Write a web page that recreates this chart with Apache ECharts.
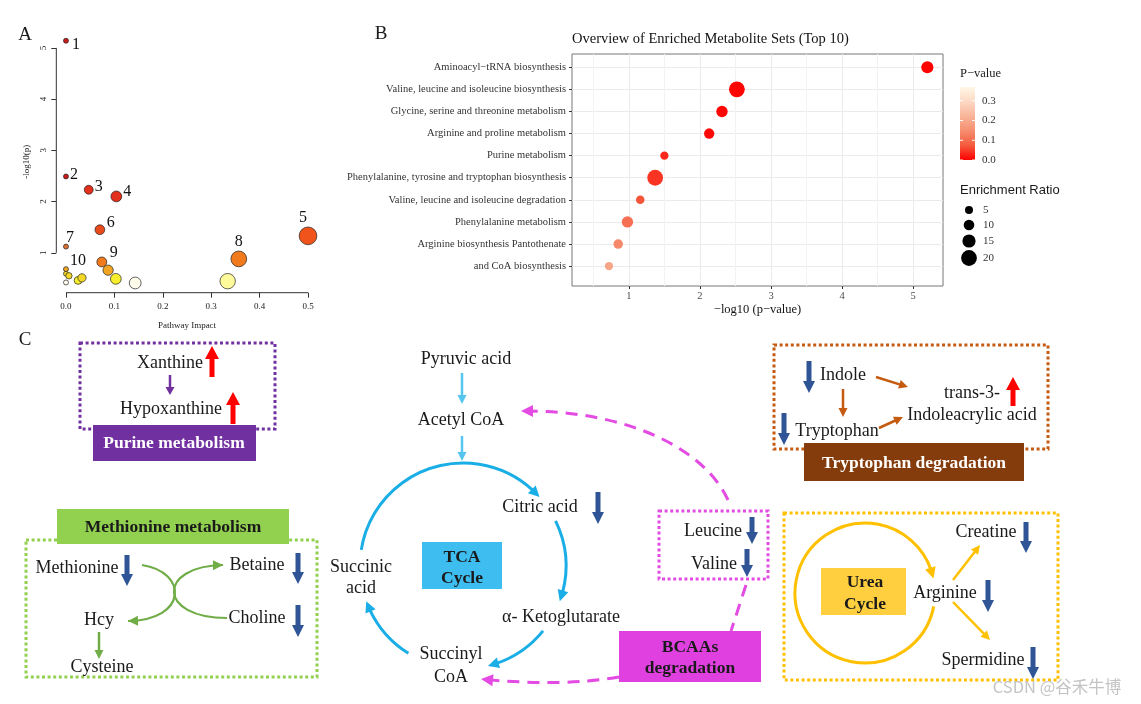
<!DOCTYPE html>
<html><head><meta charset="utf-8">
<script src="https://cdn.jsdelivr.net/npm/echarts@6.0.0/dist/echarts.min.js"></script>
<style>html,body{margin:0;padding:0;background:#fff}#c{width:1141px;height:704px}</style>
</head><body><div id="c"></div>
<script>
// ---------- Panel A data ----------
const impactX = [0.0, 0.0, 0.047, 0.104, 0.50, 0.070, 0.0, 0.357, 0.074, 0.0, 0.087, 0.103, 0.143, 0.334, 0.0, 0.006, 0.0, 0.025, 0.033];
const negLogPA = [5.14, 2.49, 2.23, 2.10, 1.33, 1.45, 1.12, 0.88, 0.82, 0.68, 0.66, 0.49, 0.41, 0.445, 0.59, 0.55, 0.42, 0.46, 0.51];
const pointLabels = ['1','2','3','4','5','6','7','8','9','10','','','','','','','','',''];
const xTicksA = [0, 0.1, 0.2, 0.3, 0.4, 0.5];
const yTicksA = [1, 2, 3, 4, 5];
const xRangeA = [-0.02, 0.52];
const yRangeA = [0.22, 5.33];
// ---------- Panel B data ----------
const setNames = ['Aminoacyl\u2212tRNA biosynthesis','Valine, leucine and isoleucine biosynthesis','Glycine, serine and threonine metabolism','Arginine and proline metabolism','Purine metabolism','Phenylalanine, tyrosine and tryptophan biosynthesis','Valine, leucine and isoleucine degradation','Phenylalanine metabolism','Arginine biosynthesis Pantothenate','and CoA biosynthesis'];
const negLogPB = [5.20, 2.52, 2.31, 2.13, 1.50, 1.37, 1.16, 0.98, 0.85, 0.72];
const pValues = [0.000006, 0.003, 0.0049, 0.0074, 0.032, 0.043, 0.069, 0.105, 0.141, 0.19];
const enrichRatio = [13, 20, 11.5, 9.5, 5.5, 20, 6, 11.5, 8, 5.5];
const xTicksB = [1, 2, 3, 4, 5];
const xMinorB = [0.5, 1.5, 2.5, 3.5, 4.5];
const pLegendTicks = [0, 0.1, 0.2, 0.3];
const erLegendVals = [5, 10, 15, 20];

const SERIF = '"Liberation Serif", "Times New Roman", serif';
const pColors = ['#FF0000', '#F45A3C', '#F68E70', '#F8B498', '#FCD8C4', '#FFF8E6'];
const pMax = 0.37;
const sizeA = v => 5 + 18 * Math.sqrt(v[0]);
const sizeB = er => 5.4 + 0.52 * er;

const labelOffsets = {'1':[10,4],'2':[8,-2],'3':[10,-3],'4':[11,-5],'5':[-5,-18],'6':[11,-7],'7':[4,-9],'8':[0,-17],'9':[12,-9],'10':[12,-8]};

const dataA = impactX.map((x, i) => ({
  value: [x, negLogPA[i]],
  label: {offset: labelOffsets[pointLabels[i]] || [0, 0]}
}));
const dataB = negLogPB.map((x, i) => [x, i, pValues[i], enrichRatio[i]]);

// ---------- graphic helpers (panel C diagram + legends) ----------
const G = [];
const INK = '#1a1a1a', BLUE = '#2F5597', RED = '#FF0000';
function txt(s, x, y, o) {
  o = o || {};
  G.push({type:'text', silent:true, z:20, style:{text:s, x:x, y:y,
    font:(o.bold?'bold ':'') + (o.size || 18) + 'px ' + (o.family || SERIF),
    fill:o.color || INK, align:o.align || 'center', verticalAlign:'middle'}});
}
function box(x, y, w, h, fill) {
  G.push({type:'rect', silent:true, z:5, shape:{x:x, y:y, width:w, height:h}, style:{fill:fill}});
}
function dotted(x, y, w, h, color) {
  G.push({type:'rect', silent:true, z:4, shape:{x:x, y:y, width:w, height:h}, style:{fill:null, stroke:color, lineWidth:3, lineDash:[3, 2.6]}});
}
function head(tx, ty, dx, dy, len, w, color) {
  const n = Math.hypot(dx, dy); dx /= n; dy /= n;
  const bx = tx - dx * len, by = ty - dy * len, px = -dy, py = dx;
  G.push({type:'polygon', silent:true, z:12, shape:{points:[[tx, ty], [bx + px * w / 2, by + py * w / 2], [bx - px * w / 2, by - py * w / 2]]}, style:{fill:color}});
}
function arrow(x1, y1, x2, y2, color, lw, hl, hw) {
  lw = lw || 2.5; hl = hl || 9; hw = hw || 9;
  const n = Math.hypot(x2 - x1, y2 - y1), dx = (x2 - x1) / n, dy = (y2 - y1) / n;
  G.push({type:'line', silent:true, z:11, shape:{x1:x1, y1:y1, x2:x2 - dx * hl * 0.8, y2:y2 - dy * hl * 0.8}, style:{stroke:color, lineWidth:lw}});
  head(x2, y2, dx, dy, hl, hw, color);
}
function block(x, yTail, yTip, color, hl, hw, sw) {
  hl = hl || 12; hw = hw || 12; sw = sw || 5;
  const d = Math.sign(yTip - yTail), yb = yTip - d * hl;
  G.push({type:'polygon', silent:true, z:12, shape:{points:[[x - sw / 2, yTail], [x + sw / 2, yTail], [x + sw / 2, yb], [x + hw / 2, yb], [x, yTip], [x - hw / 2, yb], [x - sw / 2, yb]]}, style:{fill:color}});
}
function arcArrow(cx, cy, r, a0, a1, color, lw, hl, hw) {
  lw = lw || 3; hl = hl || 11; hw = hw || 11;
  const rad = d => d * Math.PI / 180;
  const e = rad(a1);
  G.push({type:'arc', silent:true, z:11, shape:{cx:cx, cy:cy, r:r, startAngle:rad(a0), endAngle:e - hl * 0.8 / r, clockwise:true}, style:{stroke:color, lineWidth:lw, fill:null}});
  const tx = cx + r * Math.cos(e), ty = cy + r * Math.sin(e);
  const b = e - hl / r, bx = cx + r * Math.cos(b), by = cy + r * Math.sin(b);
  head(tx, ty, tx - bx, ty - by, hl, hw, color);
}
function bez(p0, c1, c2, p3, color, lw, dash, hl, hw) {
  G.push({type:'bezierCurve', silent:true, z:11, shape:{x1:p0[0], y1:p0[1], cpx1:c1[0], cpy1:c1[1], cpx2:c2[0], cpy2:c2[1], x2:p3[0], y2:p3[1]}, style:{stroke:color, lineWidth:lw, fill:null, lineDash:dash || null}});
  head(p3[0], p3[1], p3[0] - c2[0], p3[1] - c2[1], hl || 9, hw || 10, color);
}

// panel letters
txt('A', 25, 35, {size:19});
txt('B', 381, 34, {size:19});
txt('C', 25, 340, {size:19});

// ---- Panel B legends ----
txt('P\u2212value', 960, 74, {size:12.5, align:'left'});
const barTop = 87, barBot = 160;
G.push({type:'rect', silent:true, z:5, shape:{x:960, y:barTop, width:15, height:barBot - barTop},
  style:{fill:{type:'linear', x:0, y:0, x2:0, y2:1, colorStops: pColors.slice().reverse().map((c, i, a) => ({offset:i / (a.length - 1), color:c}))}}});
pLegendTicks.forEach(v => {
  const y = barBot - v / pMax * (barBot - barTop);
  txt(v.toFixed(1), 982, y, {size:11, align:'left', color:'#333'});
  G.push({type:'line', silent:true, z:6, shape:{x1:960, y1:y, x2:963, y2:y}, style:{stroke:'#fff', lineWidth:1}});
  G.push({type:'line', silent:true, z:6, shape:{x1:972, y1:y, x2:975, y2:y}, style:{stroke:'#fff', lineWidth:1}});
});
txt('Enrichment Ratio', 960, 190, {size:13, align:'left', family:'"Liberation Sans", Arial, sans-serif'});
const erY = [210, 225, 241, 258];
erLegendVals.forEach((v, i) => {
  G.push({type:'circle', silent:true, z:6, shape:{cx:969, cy:erY[i], r:sizeB(v) / 2}, style:{fill:'#000'}});
  txt(String(v), 983, erY[i], {size:11, align:'left', color:'#333'});
});

// ---- Purine metabolism ----
dotted(80, 343, 195, 86, '#7030A0');
txt('Xanthine', 170, 363);
block(212, 377, 346, RED, 13, 14, 5);
arrow(170, 375, 170, 395, '#7030A0', 2.5, 8, 9);
txt('Hypoxanthine', 171, 409);
block(233, 424, 392, RED, 13, 14, 5);
box(93, 425, 163, 36, '#7030A0');
txt('Purine metabolism', 174, 443, {bold:true, size:17.5, color:'#fff'});

// ---- Methionine metabolism ----
dotted(26, 540, 291, 137, '#92D050');
box(57, 509, 232, 35, '#92D050');
txt('Methionine metabolism', 173, 527, {bold:true, size:17.5});
txt('Methionine', 77, 568);
block(127, 555, 586, BLUE);
txt('Betaine', 257, 565);
block(298, 553, 584, BLUE);
txt('Hcy', 99, 620);
txt('Choline', 257, 618);
block(298, 605, 637, BLUE);
arrow(99, 632, 99, 659, '#70AD47', 2.5, 9, 9);
txt('Cysteine', 102, 667);
bez([142, 565], [188, 572], [188, 620], [128, 621], '#70AD47', 2.2, null, 10, 10);
bez([227, 618], [157, 618], [157, 566], [223, 565], '#70AD47', 2.2, null, 10, 10);

// ---- TCA cycle ----
const CY = '#1AAEE6', CY2 = '#56C5F0';
txt('Pyruvic acid', 466, 359);
arrow(462, 373, 462, 404, CY2, 2.5, 9, 9);
txt('Acetyl CoA', 461, 420);
arrow(462, 436, 462, 461, CY2, 2.5, 9, 9);
arcArrow(463, 566, 103, 189, 318, CY);
arcArrow(463, 566, 103, 334, 380, CY);
arcArrow(463, 566, 103, 39, 76, CY);
arcArrow(463, 566, 103, 122, 160, CY);
txt('Citric acid', 540, 507);
block(598, 492, 524, BLUE);
txt('\u03b1- Ketoglutarate', 561, 617);
txt('Succinyl', 451, 654);
txt('CoA', 451, 677);
txt('Succinic', 361, 567);
txt('acid', 361, 588);
box(422, 542, 80, 47, '#3EBEF0');
txt('TCA', 462, 557, {bold:true, size:17.5});
txt('Cycle', 462, 578, {bold:true, size:17.5});

// ---- BCAAs ----
const MG = '#E34BE3';
dotted(659, 511, 109, 68, MG);
txt('Leucine', 713, 531);
block(752, 517, 544, BLUE);
txt('Valine', 714, 564);
block(747, 549, 577, BLUE);
bez([728, 500], [705, 450], [630, 410], [521, 411], MG, 3, [12, 8], 12, 12);
G.push({type:'line', silent:true, z:11, shape:{x1:746, y1:585, x2:731, y2:631}, style:{stroke:MG, lineWidth:3, lineDash:[12, 8]}});
bez([619, 677], [580, 684], [530, 684], [481, 679], MG, 3, [12, 8], 12, 12);
box(619, 631, 142, 51, '#E040E0');
txt('BCAAs', 690, 647, {bold:true, size:17.5});
txt('degradation', 690, 668, {bold:true, size:17.5});

// ---- Tryptophan degradation ----
const BR = '#C55A11';
dotted(774, 345, 274, 104, BR);
box(804, 443, 220, 38, '#843C0C');
txt('Tryptophan degradation', 914, 463, {bold:true, size:17.5, color:'#fff'});
txt('Indole', 843, 375);
block(809, 361, 393, BLUE);
txt('Tryptophan', 837, 431);
block(784, 413, 445, BLUE);
txt('trans-3-', 972, 393);
block(1013, 406, 377, RED, 13, 14, 5);
txt('Indoleacrylic acid', 972, 415);
arrow(843, 389, 843, 417, BR, 2.5, 9, 9);
arrow(876, 377, 908, 387, BR, 2.5, 9, 9);
arrow(879, 428, 903, 417, BR, 2.5, 9, 9);

// ---- Urea cycle ----
const YL = '#FFC000';
dotted(784, 513, 274, 167, YL);
arcArrow(865, 593, 70, 11, 348, YL, 3, 11, 11);
box(821, 568, 85, 47, '#FFCF40');
txt('Urea', 865, 582, {bold:true, size:17.5});
txt('Cycle', 865, 604, {bold:true, size:17.5});
txt('Arginine', 945, 593);
block(988, 580, 612, BLUE);
txt('Creatine', 986, 532);
block(1026, 522, 553, BLUE);
txt('Spermidine', 983, 660);
block(1033, 647, 679, BLUE);
arrow(953, 580, 980, 545, YL, 2.5, 9, 9);
arrow(953, 602, 990, 640, YL, 2.5, 9, 9);

// watermark
txt('CSDN @\u8c37\u79be\u725b\u535a', 1057, 687, {size:16.5, family:'"Noto Sans CJK SC", sans-serif', color:'#c4c4c4'});

// R-style axis lines for panel A (updated after layout via the chart's scales)
G.push({id:'axAx', type:'line', silent:true, z:3, shape:{x1:0, y1:0, x2:0, y2:0}, style:{stroke:'#333', lineWidth:1}});
G.push({id:'axAy', type:'line', silent:true, z:3, shape:{x1:0, y1:0, x2:0, y2:0}, style:{stroke:'#333', lineWidth:1}});

const axisTxtA = {fontFamily:SERIF, fontSize:9, color:'#222'};
const option = {
  animation:false,
  backgroundColor:'#fff',
  title:{text:'Overview of Enriched Metabolite Sets (Top 10)', left:572, top:32, padding:0,
    textStyle:{fontFamily:SERIF, fontSize:14.5, fontWeight:'normal', color:'#111'}},
  grid:[
    {left:56.3, top:31, width:261.4, height:261.7, show:false, outerBoundsMode:'none'},
    {left:572, top:54, width:371, height:232, show:true, borderColor:'#777', borderWidth:1, backgroundColor:'#fff', outerBoundsMode:'none'}
  ],
  xAxis:[
    {type:'value', gridIndex:0, min:xRangeA[0], max:xRangeA[1], position:'bottom',
      axisLine:{show:false, onZero:false}, splitLine:{show:false},
      axisTick:{show:true, customValues:xTicksA, length:5, lineStyle:{color:'#333'}},
      axisLabel:Object.assign({customValues:xTicksA, margin:9, formatter:v => v.toFixed(1)}, axisTxtA),
      name:'Pathway Impact', nameLocation:'middle', nameGap:28, nameTextStyle:axisTxtA},
    {type:'value', gridIndex:1, min:0.2, max:5.42, position:'bottom',
      axisLine:{show:false, onZero:false},
      axisTick:{show:true, customValues:xTicksB, length:3, lineStyle:{color:'#333'}},
      axisLabel:{customValues:xTicksB, margin:5, fontFamily:SERIF, fontSize:10.5, color:'#4d4d4d'},
      splitLine:{show:true, lineStyle:{color:'#EBEBEB', width:1}},
      name:'\u2212log10 (p\u2212value)', nameLocation:'middle', nameGap:17,
      nameTextStyle:{fontFamily:SERIF, fontSize:12.5, color:'#111'}}
  ],
  yAxis:[
    {type:'value', gridIndex:0, min:yRangeA[0], max:yRangeA[1], position:'left',
      axisLine:{show:false, onZero:false}, splitLine:{show:false},
      axisTick:{show:true, customValues:yTicksA, length:5, lineStyle:{color:'#333'}},
      axisLabel:Object.assign({customValues:yTicksA, margin:8, rotate:90}, axisTxtA),
      name:'-log10(p)', nameLocation:'middle', nameGap:25, nameRotate:90, nameTextStyle:axisTxtA},
    {type:'value', gridIndex:1, inverse:true, min:-0.6, max:9.9, position:'left',
      axisLine:{show:false, onZero:false},
      axisTick:{show:true, customValues:setNames.map((s, i) => i), length:3, lineStyle:{color:'#333'}},
      axisLabel:{customValues:setNames.map((s, i) => i), formatter:v => setNames[v] || '', margin:6,
        fontFamily:SERIF, fontSize:10.5, color:'#333'},
      splitLine:{show:true, lineStyle:{color:'#EBEBEB', width:1}}}
  ],
  visualMap:[
    {type:'piecewise', show:false, seriesIndex:0, dimension:1, pieces:[
      {gte:2.3, color:'#CC1A1A'}, {gte:2.0, lt:2.3, color:'#E2301C'}, {gte:1.4, lt:2.0, color:'#E84A1C'},
      {gte:1.2, lt:1.4, color:'#F0541A'}, {gte:1.0, lt:1.2, color:'#DC7030'}, {gte:0.75, lt:1.0, color:'#F07A1C'},
      {gte:0.6, lt:0.75, color:'#F0A422'}, {gte:0.5, lt:0.6, color:'#F4D826'}, {gte:0.455, lt:0.5, color:'#F6EE2C'},
      {gte:0.43, lt:0.455, color:'#FFFB9A'}, {lt:0.43, color:'#FFFCEC'}]},
    {type:'continuous', show:false, seriesIndex:1, dimension:2, min:0, max:pMax, inRange:{color:pColors}}
  ],
  series:[
    {type:'scatter', xAxisIndex:0, yAxisIndex:0, data:dataA, symbolSize:sizeA, z:3,
      itemStyle:{borderColor:'#222', borderWidth:0.7, opacity:1},
      label:{show:true, position:'inside', formatter:p => pointLabels[p.dataIndex],
        fontFamily:SERIF, fontSize:16, color:'#111'}},
    {type:'scatter', xAxisIndex:1, yAxisIndex:1, data:dataB, symbolSize:v => sizeB(v[3]), z:3,
      itemStyle:{opacity:1}},
    {type:'line', xAxisIndex:1, yAxisIndex:1, data:[], z:1, silent:true,
      markLine:{silent:true, z:1, symbol:'none', label:{show:false}, animation:false,
        lineStyle:{color:'#F2F2F2', type:'solid', width:1},
        data:xMinorB.map(v => ({xAxis:v}))}}
  ],
  graphic:G
};

const chart = echarts.init(document.getElementById('c'), null, {renderer:'canvas'});
chart.setOption(option);
const a0 = chart.convertToPixel({gridIndex:0}, [xTicksA[0], yRangeA[0]]);
const a1 = chart.convertToPixel({gridIndex:0}, [xTicksA[xTicksA.length - 1], yRangeA[0]]);
const b0 = chart.convertToPixel({gridIndex:0}, [xRangeA[0], yTicksA[0]]);
const b1 = chart.convertToPixel({gridIndex:0}, [xRangeA[0], yTicksA[yTicksA.length - 1]]);
chart.setOption({graphic:[
  {id:'axAx', shape:{x1:a0[0], y1:a0[1], x2:a1[0], y2:a1[1]}},
  {id:'axAy', shape:{x1:b0[0], y1:b0[1], x2:b1[0], y2:b1[1]}}
]});
</script></body></html>
